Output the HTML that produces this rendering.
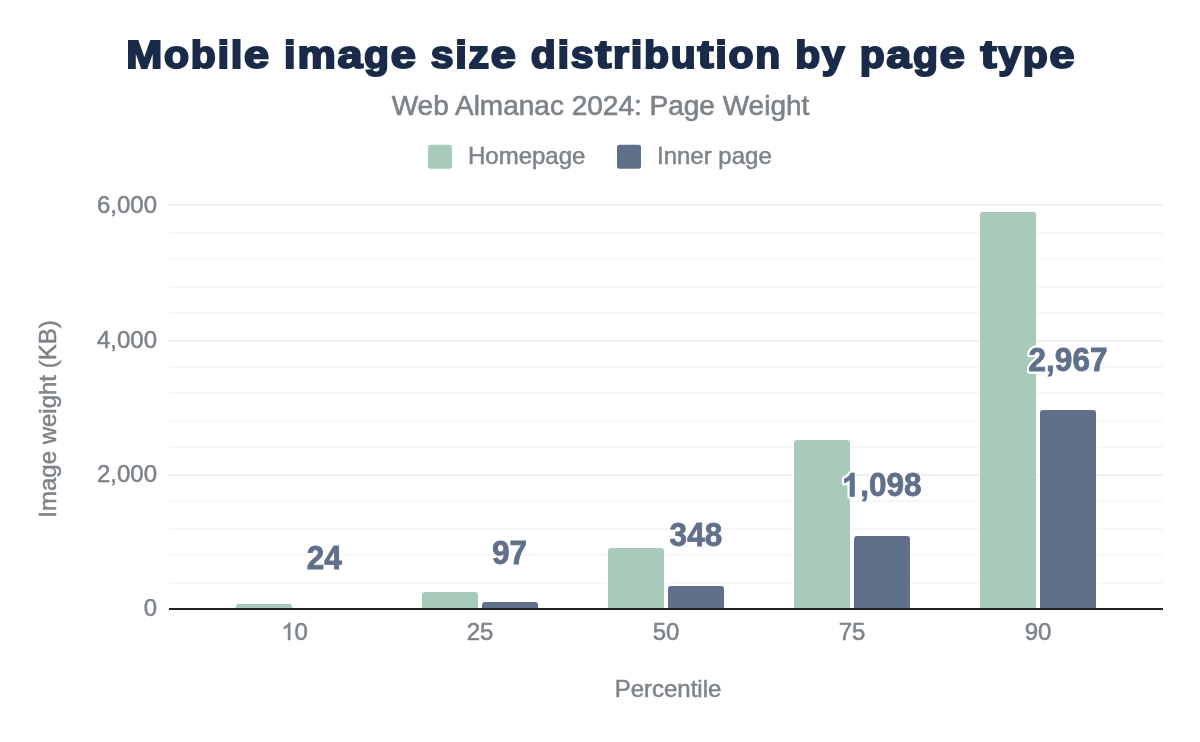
<!DOCTYPE html>
<html>
<head>
<meta charset="utf-8">
<title>Mobile image size distribution by page type</title>
<style>
html,body{margin:0;padding:0;background:#fff;}
body{width:1200px;height:742px;overflow:hidden;font-family:"Liberation Sans",sans-serif;}
svg{display:block;will-change:transform;}
text{font-family:"Liberation Sans",sans-serif;}
.ax{fill:#7d8389;font-size:24px;stroke:#7d8389;stroke-width:0.5px;}
.dlbg{fill:#fff;font-size:32px;font-weight:bold;stroke:#fff;stroke-width:5.2px;stroke-linejoin:round;}
.dlfg{fill:#60708b;font-size:32px;font-weight:bold;stroke:#60708b;stroke-width:0.8px;}
</style>
</head>
<body>
<svg width="1200" height="742" viewBox="0 0 1200 742">
<rect width="1200" height="742" fill="#fff"/>
<!-- title -->
<g id="title" font-size="38" font-weight="bold" fill="#1a2b49" stroke="#1a2b49" stroke-width="2">
<text transform="translate(126.35,67.6) scale(1.1392,1)">M</text>
<text transform="translate(164.11,67.6) scale(1.0762,1)">o</text>
<text transform="translate(190.79,67.6) scale(1.0762,1)">b</text>
<text transform="translate(217.47,67.6) scale(1.1006,1)">i</text>
<text transform="translate(230.79,67.6) scale(1.1006,1)">l</text>
<text transform="translate(244.11,67.6) scale(1.1820,1)">e</text>
<text transform="translate(284.11,67.6) scale(1.1006,1)">i</text>
<text transform="translate(297.43,67.6) scale(1.1335,1)">m</text>
<text transform="translate(337.43,67.6) scale(1.1820,1)">a</text>
<text transform="translate(364.11,67.6) scale(1.0762,1)">g</text>
<text transform="translate(390.79,67.6) scale(1.1820,1)">e</text>
<text transform="translate(430.79,67.6) scale(1.0760,1)">s</text>
<text transform="translate(455.23,67.6) scale(1.1006,1)">i</text>
<text transform="translate(468.55,67.6) scale(1.0811,1)">z</text>
<text transform="translate(490.79,67.6) scale(1.1820,1)">e</text>
<text transform="translate(530.79,67.6) scale(1.0762,1)">d</text>
<text transform="translate(557.47,67.6) scale(1.1006,1)">i</text>
<text transform="translate(570.79,67.6) scale(1.0760,1)">s</text>
<text transform="translate(595.23,67.6) scale(1.2691,1)">t</text>
<text transform="translate(612.99,67.6) scale(1.0860,1)">r</text>
<text transform="translate(630.75,67.6) scale(1.1006,1)">i</text>
<text transform="translate(644.07,67.6) scale(1.0762,1)">b</text>
<text transform="translate(670.75,67.6) scale(1.0762,1)">u</text>
<text transform="translate(697.43,67.6) scale(1.2691,1)">t</text>
<text transform="translate(715.19,67.6) scale(1.1006,1)">i</text>
<text transform="translate(728.51,67.6) scale(1.0762,1)">o</text>
<text transform="translate(755.19,67.6) scale(1.0762,1)">n</text>
<text transform="translate(795.19,67.6) scale(1.0762,1)">b</text>
<text transform="translate(821.87,67.6) scale(1.0760,1)">y</text>
<text transform="translate(859.63,67.6) scale(1.0762,1)">p</text>
<text transform="translate(886.31,67.6) scale(1.1820,1)">a</text>
<text transform="translate(912.99,67.6) scale(1.0762,1)">g</text>
<text transform="translate(939.67,67.6) scale(1.1820,1)">e</text>
<text transform="translate(980.57,67.6) scale(1.2691,1)">t</text>
<text transform="translate(998.33,67.6) scale(1.0760,1)">y</text>
<text transform="translate(1022.77,67.6) scale(1.0762,1)">p</text>
<text transform="translate(1049.45,67.6) scale(1.1820,1)">e</text>
</g>
<text id="sub" x="600.5" y="114.5" text-anchor="middle" font-size="28" fill="#7d8389" stroke="#7d8389" stroke-width="0.6">Web Almanac 2024: Page Weight</text>
<!-- legend -->
<rect x="428" y="144.7" width="24" height="24" rx="2.5" fill="#a8caba"/>
<text id="lg1" class="ax" x="468" y="164">Homepage</text>
<rect x="617" y="144.7" width="24" height="24" rx="2.5" fill="#60708b"/>
<text id="lg2" class="ax" x="657" y="164">Inner page</text>
<!-- gridlines -->
<g id="grid" fill="#f6f6f6">
<rect x="169" y="232" width="994" height="2"/>
<rect x="169" y="258" width="994" height="2"/>
<rect x="169" y="286" width="994" height="2"/>
<rect x="169" y="312" width="994" height="2"/>
<rect x="169" y="366" width="994" height="2"/>
<rect x="169" y="392" width="994" height="2"/>
<rect x="169" y="420" width="994" height="2"/>
<rect x="169" y="446" width="994" height="2"/>
<rect x="169" y="500" width="994" height="2"/>
<rect x="169" y="528" width="994" height="2"/>
<rect x="169" y="554" width="994" height="2"/>
<rect x="169" y="582" width="994" height="2"/>
</g>
<g id="gridmaj" fill="#eeeeee">
<rect x="169" y="204" width="994" height="2"/>
<rect x="169" y="340" width="994" height="2"/>
<rect x="169" y="474" width="994" height="2"/>
</g>
<!-- bars -->
<g id="bars" stroke="#fff" stroke-width="2" paint-order="stroke fill">
<path fill="#a8caba" d="M236,609V607a3,3 0 0 1 3,-3H289a3,3 0 0 1 3,3V609Z"/>
<path fill="#a8caba" d="M422,609V595a3,3 0 0 1 3,-3H475a3,3 0 0 1 3,3V609Z"/>
<path fill="#60708b" d="M482,609V605a3,3 0 0 1 3,-3H535a3,3 0 0 1 3,3V609Z"/>
<path fill="#a8caba" d="M608,609V551a3,3 0 0 1 3,-3H661a3,3 0 0 1 3,3V609Z"/>
<path fill="#60708b" d="M668,609V589a3,3 0 0 1 3,-3H721a3,3 0 0 1 3,3V609Z"/>
<path fill="#a8caba" d="M794,609V443a3,3 0 0 1 3,-3H847a3,3 0 0 1 3,3V609Z"/>
<path fill="#60708b" d="M854,609V539a3,3 0 0 1 3,-3H907a3,3 0 0 1 3,3V609Z"/>
<path fill="#a8caba" d="M980,609V215a3,3 0 0 1 3,-3H1033a3,3 0 0 1 3,3V609Z"/>
<path fill="#60708b" d="M1040,609V413a3,3 0 0 1 3,-3H1093a3,3 0 0 1 3,3V609Z"/>
</g>
<!-- baseline -->
<rect x="169" y="608" width="994" height="2" fill="#222"/>
<!-- y labels -->
<text id="y6" class="ax" x="157" y="212.8" text-anchor="end">6,000</text>
<text id="y4" class="ax" x="157" y="347.8" text-anchor="end">4,000</text>
<text id="y2" class="ax" x="157" y="481.8" text-anchor="end">2,000</text>
<text id="y0" class="ax" x="157" y="615.8" text-anchor="end">0</text>
<!-- x labels -->
<path id="x10a" transform="translate(281.25,640) scale(0.011719,-0.011719)" d="M763 0H583V1147Q518 1085 412.5 1023Q307 961 223 930V1104Q374 1175 487 1276Q600 1377 647 1472H763Z" fill="#7d8389" stroke="#7d8389" stroke-width="0.5" vector-effect="non-scaling-stroke"/>
<text id="x10" class="ax" x="294.6" y="640">0</text>
<text id="x25" class="ax" x="480" y="640" text-anchor="middle">25</text>
<text id="x50" class="ax" x="666" y="640" text-anchor="middle">50</text>
<text id="x75" class="ax" x="852" y="640" text-anchor="middle">75</text>
<text id="x90" class="ax" x="1038" y="640" text-anchor="middle">90</text>
<text id="xt" class="ax" x="668" y="697.3" text-anchor="middle">Percentile</text>
<text id="yt" class="ax" transform="translate(56.4,419) rotate(-90)" text-anchor="middle">Image weight (KB)</text>
<!-- data labels -->
<g id="dlbg" class="dlbg">
<text transform="translate(324.2,568.6) scale(.985,1.015)" text-anchor="middle">24</text>
<text transform="translate(509.5,563.6) scale(.985,1.015)" text-anchor="middle">97</text>
<text transform="translate(695.9,546.4) scale(.985,1.015)" text-anchor="middle">348</text>
<path transform="translate(841.97,496.4) scale(0.015391,-0.015859)" d="M806 0H525V1059Q371 915 162 846V1101Q272 1137 401 1237.5Q530 1338 578 1472H806Z" vector-effect="non-scaling-stroke"/>
<text transform="translate(860.30,496.4) scale(.985,1.015)">,098</text>
<text transform="translate(1068,370.5) scale(.985,1.015)" text-anchor="middle">2,967</text>
</g>
<g id="dlfg" class="dlfg">
<text id="d1" transform="translate(324.2,568.6) scale(.985,1.015)" text-anchor="middle">24</text>
<text id="d2" transform="translate(509.5,563.6) scale(.985,1.015)" text-anchor="middle">97</text>
<text id="d3" transform="translate(695.9,546.4) scale(.985,1.015)" text-anchor="middle">348</text>
<path transform="translate(841.97,496.4) scale(0.015391,-0.015859)" d="M806 0H525V1059Q371 915 162 846V1101Q272 1137 401 1237.5Q530 1338 578 1472H806Z" vector-effect="non-scaling-stroke"/>
<text id="d4" transform="translate(860.30,496.4) scale(.985,1.015)">,098</text>
<text id="d5" transform="translate(1068,370.5) scale(.985,1.015)" text-anchor="middle">2,967</text>
</g>
</svg>
</body>
</html>
